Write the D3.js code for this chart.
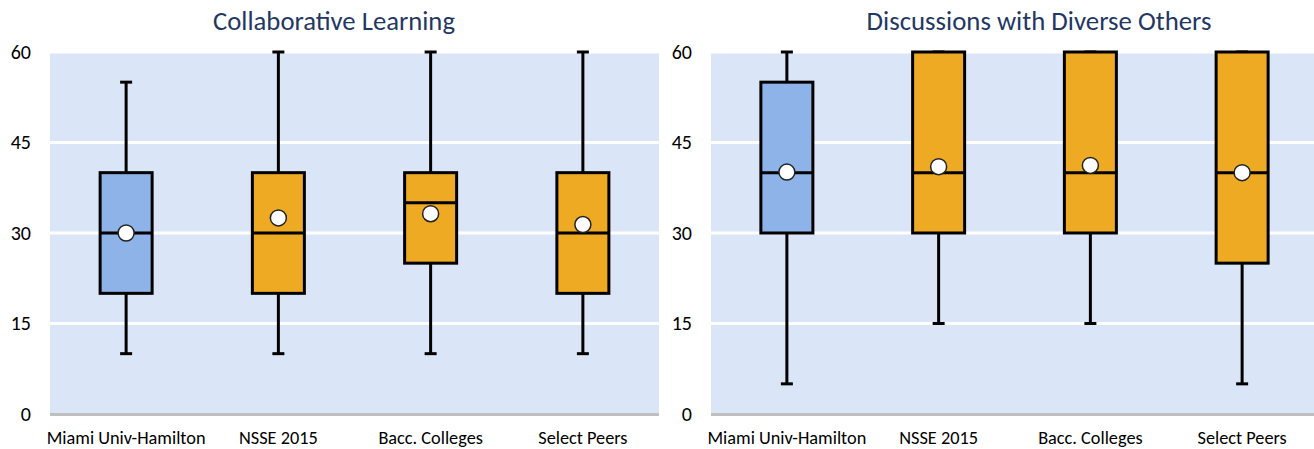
<!DOCTYPE html>
<html><head><meta charset="utf-8">
<script src="https://cdn.jsdelivr.net/npm/d3@7"></script>
<style>body{margin:0;background:#fff}svg{display:block}</style>
</head><body>
<svg id="c" width="1314" height="449"></svg>
<script>
const categories = ["Miami Univ-Hamilton", "NSSE 2015", "Bacc. Colleges", "Select Peers"];
const yTicks = [0, 15, 30, 45, 60];
const titles = ["Collaborative Learning", "Discussions with Diverse Others"];
// Collaborative Learning
const clMin = [10, 10, 10, 10];
const clQ1 = [20, 20, 25, 20];
const clMed = [30, 30, 35, 30];
const clQ3 = [40, 40, 40, 40];
const clMax = [55, 60, 60, 60];
const clMean = [30, 32.5, 33.2, 31.4];
// Discussions with Diverse Others
const ddMin = [5, 15, 15, 5];
const ddQ1 = [30, 30, 30, 25];
const ddMed = [40, 40, 40, 40];
const ddQ3 = [55, 60, 60, 60];
const ddMax = [60, 60, 60, 60];
const ddMean = [40.1, 41, 41.2, 40];

const colors = ["#8db3e9", "#eeaa22", "#eeaa22", "#eeaa22"];
const svg = d3.select("#c");
const font = "Carlito, Lato, 'Liberation Sans', sans-serif";

const panels = [
  {title: titles[0], x0: 50, x1: 659, axX: 31, titleX: 334, titleW: 242,
   data: categories.map((c,i)=>({c, min: clMin[i], q1: clQ1[i], med: clMed[i], q3: clQ3[i], max: clMax[i], mean: clMean[i], col: colors[i]}))},
  {title: titles[1], x0: 711, x1: 1318, axX: 692, titleX: 1039, titleW: 345,
   data: categories.map((c,i)=>({c, min: ddMin[i], q1: ddQ1[i], med: ddMed[i], q3: ddQ3[i], max: ddMax[i], mean: ddMean[i], col: colors[i]}))}
];

const y = d3.scaleLinear().domain([0, 60]).range([414, 52]);

panels.forEach(p => {
  const g = svg.append("g");
  const x = d3.scaleBand().domain(categories).range([p.x0, p.x1]);
  g.append("rect").attr("x", p.x0).attr("y", y(60)).attr("width", Math.min(p.x1, 1314) - p.x0)
    .attr("height", y(0) - y(60)).attr("fill", "#dae5f7");
  g.selectAll("line.grid").data(yTicks.filter(t => t > 0)).join("line")
    .attr("x1", p.x0).attr("x2", p.x1).attr("y1", d => y(d)).attr("y2", d => y(d))
    .attr("stroke", "#ffffff").attr("stroke-width", 3);
  g.append("line").attr("x1", p.x0).attr("x2", p.x1).attr("y1", y(0)+0.5).attr("y2", y(0)+0.5)
    .attr("stroke", "#bfbfbf").attr("stroke-width", 3);
  const ax = d3.axisLeft(y).tickValues(yTicks).tickSize(0).tickPadding(0);
  const axg = g.append("g").attr("transform", `translate(${p.axX},0)`).call(ax);
  axg.select(".domain").remove();
  axg.selectAll("text").attr("font-family", font).attr("font-size", 20).attr("fill", "#000");
  const bx = d3.axisBottom(x).tickSize(0).tickPadding(0);
  const bxg = g.append("g").attr("transform", `translate(0,${y(0)+17})`).call(bx);
  bxg.select(".domain").remove();
  bxg.selectAll("text").attr("font-family", font).attr("font-size", 18.3).attr("fill", "#000");
  const t = g.append("text").attr("x", p.titleX).attr("y", 30).attr("text-anchor", "middle")
    .attr("font-family", font).attr("font-size", 22).attr("fill", "#1f3864").text(p.title);
  const w = t.node().getComputedTextLength();
  t.attr("font-size", 22 * p.titleW / w);

  const bw = 52, cap = 12;
  const items = g.selectAll("g.box").data(p.data).join("g").attr("class", "box")
    .attr("transform", d => `translate(${x(d.c) + x.bandwidth()/2},0)`);
  items.append("line").attr("x1", 0).attr("x2", 0).attr("y1", d => y(d.max)).attr("y2", d => y(d.min))
    .attr("stroke", "#000").attr("stroke-width", 3);
  items.append("line").attr("x1", -cap/2).attr("x2", cap/2).attr("y1", d => y(d.max)).attr("y2", d => y(d.max))
    .attr("stroke", "#000").attr("stroke-width", 3);
  items.append("line").attr("x1", -cap/2).attr("x2", cap/2).attr("y1", d => y(d.min)).attr("y2", d => y(d.min))
    .attr("stroke", "#000").attr("stroke-width", 3);
  items.append("rect").attr("x", -bw/2).attr("width", bw).attr("y", d => y(d.q3))
    .attr("height", d => y(d.q1) - y(d.q3)).attr("fill", d => d.col)
    .attr("stroke", "#000").attr("stroke-width", 3);
  items.append("line").attr("x1", -bw/2).attr("x2", bw/2).attr("y1", d => y(d.med)).attr("y2", d => y(d.med))
    .attr("stroke", "#000").attr("stroke-width", 3);
  items.append("circle").attr("cx", 0).attr("cy", d => y(d.mean)).attr("r", 8)
    .attr("fill", "#fff").attr("stroke", "#222").attr("stroke-width", 1.5);
});
</script>
</body></html>
